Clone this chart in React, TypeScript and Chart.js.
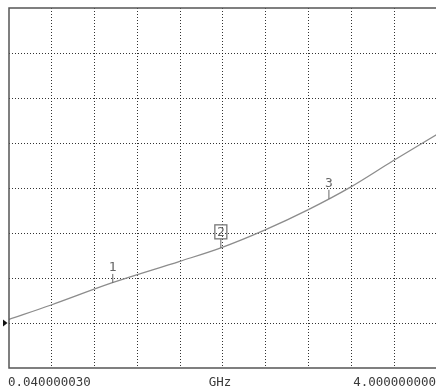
import React, { useEffect, useRef } from "react";
import { Chart, registerables } from "chart.js";

Chart.register(...registerables);

// Trace: frequency (GHz) vs value (in screen divisions, 0 = bottom)
const freqGHz = [0.04, 0.43, 0.99, 1.62, 2.0, 2.41, 2.81, 3.2, 3.59, 4.0];
const traceVals = [1.08, 1.4, 1.89, 2.37, 2.67, 3.07, 3.52, 4.02, 4.6, 5.19];

// Markers
const markerLabels = ["1", "2", "3"];
const markerFreqs = [1.0, 2.0, 3.0];
const markerVals = [1.89, 2.67, 3.76];
const activeMarker = "2";

// Axis
const startLabel = "0.040000030";
const unitLabel = "GHz";
const stopLabel = "4.000000000";
const xStart = 0.04;
const xStop = 4.0;
const xDivisions = 10;
const yDivisions = 8;
const refLevel = 1;

export default function App() {
  const ref = useRef<HTMLCanvasElement | null>(null);

  useEffect(() => {
    if (!ref.current) return;
    const step = (xStop - xStart) / xDivisions;
    const xGrid: number[] = [];
    for (let i = 1; i < xDivisions; i++) xGrid.push(xStart + i * step);
    const pxPerDiv = 42.8;
    const xMaxVisible = xStart + (427 / pxPerDiv) * step;

    const overlay = {
      id: "overlay",
      afterDatasetsDraw(chart: any) {
        const { ctx, chartArea, scales } = chart;
        const xs = scales.x;
        const ys = scales.y;
        ctx.save();
        // frame
        ctx.strokeStyle = "#555";
        ctx.lineWidth = 1.5;
        ctx.beginPath();
        ctx.moveTo(chartArea.right, chartArea.top);
        ctx.lineTo(chartArea.left, chartArea.top);
        ctx.lineTo(chartArea.left, chartArea.bottom);
        ctx.lineTo(chartArea.right, chartArea.bottom);
        ctx.stroke();
        // reference arrow
        const ry = ys.getPixelForValue(refLevel);
        ctx.fillStyle = "#111";
        ctx.beginPath();
        ctx.moveTo(3, ry - 3.5);
        ctx.lineTo(7.5, ry);
        ctx.lineTo(3, ry + 3.5);
        ctx.closePath();
        ctx.fill();
        // markers
        ctx.font = "13px 'DejaVu Sans Mono', monospace";
        ctx.textAlign = "center";
        ctx.textBaseline = "bottom";
        markerLabels.forEach((lab, i) => {
          const px = xs.getPixelForValue(markerFreqs[i]);
          const py = ys.getPixelForValue(markerVals[i]);
          ctx.strokeStyle = "#666";
          ctx.lineWidth = 1;
          ctx.beginPath();
          ctx.moveTo(px, py);
          ctx.lineTo(px, py - 9);
          ctx.stroke();
          ctx.fillStyle = "#666";
          ctx.fillText(lab, px, py - 9);
          if (lab === activeMarker) {
            ctx.strokeStyle = "#777";
            ctx.lineWidth = 1.3;
            ctx.strokeRect(px - 6, py - 23, 12, 14);
          }
        });
        // bottom labels
        ctx.fillStyle = "#3a3a3a";
        ctx.font = "12.5px 'DejaVu Sans Mono', monospace";
        ctx.textBaseline = "top";
        const ty = chartArea.bottom + 8;
        ctx.textAlign = "left";
        ctx.fillText(startLabel, 8, ty);
        ctx.textAlign = "center";
        ctx.fillText(unitLabel, 220, ty);
        ctx.textAlign = "right";
        ctx.fillText(stopLabel, 436, ty);
        ctx.restore();
      },
    };

    const chart = new Chart(ref.current, {
      type: "line",
      data: {
        datasets: [
          {
            data: freqGHz.map((f, i) => ({ x: f, y: traceVals[i] })),
            borderColor: "#8c8c8c",
            borderWidth: 1.3,
            pointRadius: 0,
            cubicInterpolationMode: "monotone",
            fill: false,
          },
        ],
      },
      options: {
        animation: false,
        responsive: false,
        devicePixelRatio: 1,
        events: [],
        layout: { padding: { left: 9, top: 8, right: 0, bottom: 23 } },
        plugins: { legend: { display: false }, tooltip: { enabled: false } },
        scales: {
          x: {
            type: "linear",
            min: xStart,
            max: xMaxVisible,
            afterBuildTicks: (scale: any) => {
              scale.ticks = xGrid.map((v) => ({ value: v }));
            },
            ticks: { display: false },
            grid: { color: "rgba(0,0,0,0.8)", drawTicks: false, lineWidth: 1 },
            border: { display: false, dash: [1, 2] },
          },
          y: {
            type: "linear",
            min: 0,
            max: yDivisions,
            afterBuildTicks: (scale: any) => {
              const t: any[] = [];
              for (let i = 1; i < yDivisions; i++) t.push({ value: i });
              scale.ticks = t;
            },
            ticks: { display: false },
            grid: { color: "rgba(0,0,0,0.8)", drawTicks: false, lineWidth: 1 },
            border: { display: false, dash: [1, 2] },
          },
        },
      },
      plugins: [overlay],
    });
    return () => chart.destroy();
  }, []);

  return (
    <div style={{ position: "fixed", left: 0, top: 0, width: 436, height: 391, background: "#fff" }}>
      <canvas ref={ref} width={436} height={391} />
    </div>
  );
}
